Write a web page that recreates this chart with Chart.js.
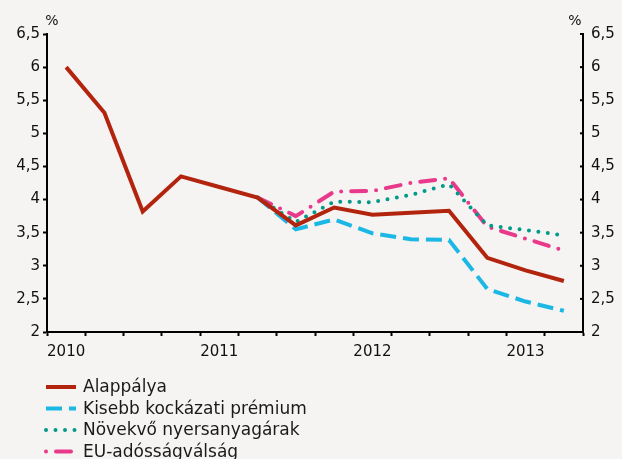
<!DOCTYPE html>
<html>
<head>
<meta charset="utf-8">
<script src="https://cdn.jsdelivr.net/npm/chart.js@4.4.1/dist/chart.umd.min.js"></script>
<style>
  html, body { margin: 0; padding: 0; background: #f5f4f2; }
  #wrap { position: relative; width: 622px; height: 459px; }
</style>
</head>
<body>
<div id="wrap"><canvas id="chart"></canvas></div>
<script>
// quarterly, 2010 Q1 .. 2013 Q2
const quarters = ['2010', '', '', '', '2011', '', '', '', '2012', '', '', '', '2013', ''];

const alappalya = [6.0, 5.31, 3.82, 4.35, 4.19, 4.03, 3.61, 3.88, 3.77, 3.8, 3.83, 3.12, 2.93, 2.77];
const kisebbKockazati = [null, null, null, null, null, 4.03, 3.55, 3.7, 3.49, 3.4, 3.39, 2.65, 2.46, 2.32];
const novekvoNyersanyag = [null, null, null, null, null, 4.03, 3.66, 3.97, 3.96, 4.07, 4.23, 3.61, 3.54, 3.46];
const euAdossag = [null, null, null, null, null, 4.03, 3.75, 4.12, 4.13, 4.25, 4.32, 3.59, 3.41, 3.23];

const yTicks = { min: 2, max: 6.5, step: 0.5 };

const FONT = 'DejaVu Sans';

function fmt(v) {
    return String(v).replace('.', ',');
}

function line(label, data, color, dash, cap, offset) {
    return {
        label: label,
        data: data,
        borderColor: color,
        backgroundColor: color,
        borderWidth: 4,
        borderDash: dash,
        borderCapStyle: cap,
        borderJoinStyle: cap === 'round' ? 'round' : 'miter',
        legendDashOffset: offset || 0,
        pointRadius: 0,
        tension: 0,
        spanGaps: false,
        yAxisID: 'y'
    };
}

// legend list, '%' titles and inward ticks on the right axis
const extras = {
    id: 'extras',
    afterDraw(chart) {
        const ctx = chart.ctx;
        const area = chart.chartArea;
        ctx.save();

        ctx.fillStyle = '#111';
        ctx.font = '14px ' + FONT;
        ctx.textAlign = 'center';
        ctx.textBaseline = 'middle';
        ctx.fillText('%', area.left + 5, 21);
        ctx.fillText('%', area.right - 8, 21);

        const y2 = chart.scales.y2;
        ctx.strokeStyle = '#000';
        ctx.lineWidth = 2;
        y2.ticks.forEach(t => {
            const py = y2.getPixelForValue(t.value);
            ctx.beginPath();
            ctx.moveTo(y2.left - 3, py);
            ctx.lineTo(y2.left, py);
            ctx.stroke();
        });

        chart.data.datasets.forEach((ds, i) => {
            const y = 387 + i * 21.5;
            ctx.beginPath();
            ctx.strokeStyle = ds.borderColor;
            ctx.lineWidth = ds.borderWidth;
            ctx.lineCap = ds.borderCapStyle;
            ctx.setLineDash(ds.borderDash);
            ctx.lineDashOffset = ds.legendDashOffset;
            ctx.moveTo(46, y);
            ctx.lineTo(76, y);
            ctx.stroke();
            ctx.setLineDash([]);
            ctx.fillStyle = '#1a1a1a';
            ctx.font = '17px ' + FONT;
            ctx.textAlign = 'left';
            ctx.textBaseline = 'middle';
            ctx.fillText(ds.label, 83, y + 1);
        });
        ctx.restore();
    }
};

const yScale = {
    min: yTicks.min,
    max: yTicks.max,
    border: { display: true, color: '#000', width: 2 },
    grid: { drawOnChartArea: false, tickLength: 4, tickColor: '#000', tickWidth: 2 },
    ticks: {
        stepSize: yTicks.step,
        color: '#111',
        font: { family: FONT, size: 15 },
        padding: 3,
        callback: v => fmt(v)
    }
};

new Chart(document.getElementById('chart'), {
    type: 'line',
    data: {
        labels: quarters,
        datasets: [
            line('Alappálya', alappalya, '#b3240f', [], 'butt'),
            line('Kisebb kockázati prémium', kisebbKockazati, '#1bb8e6', [16, 7], 'butt'),
            line('Növekvő nyersanyagárak', novekvoNyersanyag, '#00998a', [0, 9.5], 'round'),
            line('EU-adósságválság', euAdossag, '#e9398b', [15, 10, 0, 10], 'round', 25)
        ]
    },
    options: {
        responsive: true,
        maintainAspectRatio: false,
        animation: false,
        layout: { padding: { top: 34, left: 0, right: 0, bottom: 97 } },
        plugins: {
            legend: { display: false },
            tooltip: { enabled: false }
        },
        scales: {
            x: {
                offset: true,
                border: { display: true, color: '#000', width: 2 },
                grid: { drawOnChartArea: false, offset: true, tickLength: 4, tickColor: '#000', tickWidth: 2 },
                ticks: {
                    autoSkip: false,
                    maxRotation: 0,
                    color: '#111',
                    font: { family: FONT, size: 15 },
                    padding: 7
                },
                afterFit: s => { s.height = 30; }
            },
            y: Object.assign({}, yScale, {
                position: 'left',
                afterFit: s => { s.width = 47; }
            }),
            y2: Object.assign({}, yScale, {
                position: 'right',
                grid: { drawOnChartArea: false, tickLength: 0 },
                ticks: Object.assign({}, yScale.ticks, { padding: 8 }),
                afterFit: s => { s.width = 39; }
            })
        }
    },
    plugins: [extras]
});
</script>
</body>
</html>
